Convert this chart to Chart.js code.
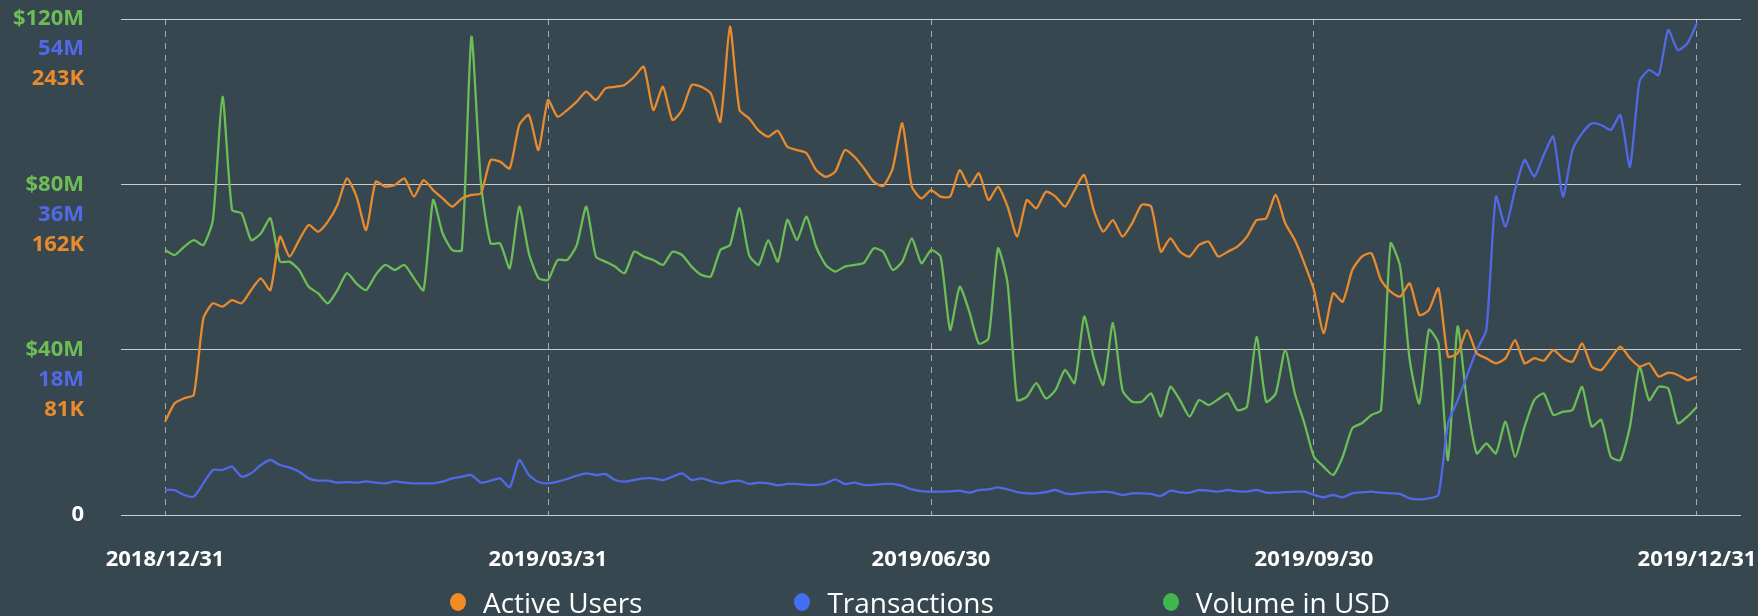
<!DOCTYPE html>
<html>
<head>
<meta charset="utf-8">
<title>Active Users, Transactions and Volume</title>
<script src="https://cdn.jsdelivr.net/npm/chart.js@4.4.1/dist/chart.umd.min.js"></script>
<style>
  html, body { margin: 0; padding: 0; background: #37474f; }
  #wrap { position: relative; width: 1758px; height: 616px; }
  #legend {
    position: absolute; left: 450px; top: 583px; height: 38px;
    display: flex; align-items: center;
    font: 28px 'Open Sans', sans-serif; color: #fff; white-space: nowrap;
  }
  #legend .item { display: flex; align-items: center; }
  #legend .item:nth-child(2) { margin-left: 152px; }
  #legend .item:nth-child(3) { margin-left: 169px; }
  #legend .dot { width: 16px; height: 18px; border-radius: 50%; margin-right: 17px; }
</style>
</head>
<body>
<div id="wrap">
  <canvas id="chart"></canvas>
  <div id="legend"></div>
</div>
<script>
// one sample every ~2.3 days, 40 samples per quarter
const tickPos = [0, 40, 80, 120, 160];
const tickLabels = ['2018/12/31', '2019/03/31', '2019/06/30', '2019/09/30', '2019/12/31'];

// daily active users, thousands
const activeUsersK = [
  45.7, 54.7, 57.2, 58.8, 96.3, 103.7, 102.1, 105.3, 103.7, 110.2,
  115.9, 110.2, 136.4, 126.6, 134.7, 142.1, 138.8, 143.7, 151.9, 164.9,
  156.0, 139.6, 163.3, 160.9, 161.7, 164.9, 156.0, 164.1, 159.2, 155.1,
  151.1, 155.1, 156.8, 157.6, 173.9, 173.1, 169.8, 191.1, 196.0, 178.8,
  203.3, 195.1, 198.4, 202.5, 207.4, 203.3, 209.0, 209.8, 210.7, 214.7,
  219.6, 198.4, 209.8, 193.5, 198.4, 210.7, 209.8, 206.6, 192.7, 239.2,
  198.4, 194.3, 188.3, 185.3, 188.3, 180.4, 178.8, 177.2, 169.0, 165.7,
  168.2, 178.8, 175.5, 169.8, 163.3, 161.2, 169.8, 191.9, 160.9, 155.1,
  159.2, 156.0, 156.0, 169.0, 160.9, 167.4, 154.3, 160.9, 151.1, 136.4,
  154.3, 150.2, 158.4, 156.0, 151.1, 159.2, 166.6, 149.4, 138.8, 144.5,
  136.4, 142.9, 151.9, 151.1, 129.0, 135.5, 129.0, 126.6, 132.3, 133.9,
  126.6, 129.0, 131.5, 136.4, 144.5, 145.3, 156.8, 142.9, 134.7, 123.3,
  110.2, 89.0, 108.6, 104.5, 120.0, 126.6, 128.2, 115.1, 109.4, 107.0,
  113.5, 98.0, 100.4, 111.0, 77.6, 79.2, 90.6, 79.2, 76.8, 74.3,
  76.8, 85.7, 74.3, 76.8, 75.6, 80.8, 76.8, 75.1, 84.1, 72.7,
  71.0, 76.8, 82.5, 76.8, 72.7, 74.3, 67.8, 69.7, 68.6, 66.1,
  67.8
];

// daily transactions, millions
const transactionsM = [
  2.72, 2.72, 2.18, 2.00, 3.45, 4.90, 4.90, 5.26, 4.17, 4.54,
  5.44, 5.99, 5.44, 5.19, 4.72, 3.99, 3.74, 3.74, 3.52, 3.59,
  3.52, 3.67, 3.52, 3.45, 3.67, 3.52, 3.45, 3.45, 3.45, 3.63,
  3.99, 4.17, 4.35, 3.52, 3.74, 3.99, 3.01, 5.99, 4.35, 3.59,
  3.45, 3.63, 3.92, 4.28, 4.54, 4.35, 4.46, 3.81, 3.63, 3.81,
  3.99, 3.99, 3.81, 4.17, 4.54, 3.81, 3.99, 3.70, 3.45, 3.63,
  3.74, 3.38, 3.52, 3.45, 3.23, 3.38, 3.38, 3.27, 3.27, 3.45,
  3.88, 3.38, 3.52, 3.27, 3.27, 3.38, 3.38, 3.16, 2.79, 2.61,
  2.54, 2.54, 2.58, 2.65, 2.43, 2.72, 2.79, 3.01, 2.79, 2.50,
  2.36, 2.36, 2.50, 2.72, 2.36, 2.29, 2.43, 2.47, 2.54, 2.43,
  2.18, 2.36, 2.36, 2.29, 2.07, 2.65, 2.47, 2.43, 2.72, 2.65,
  2.54, 2.72, 2.58, 2.54, 2.72, 2.43, 2.43, 2.50, 2.54, 2.54,
  2.18, 1.92, 2.18, 1.92, 2.36, 2.47, 2.54, 2.43, 2.36, 2.29,
  1.81, 1.71, 1.81, 2.18, 9.98, 12.45, 15.24, 17.96, 20.14, 34.66,
  31.39, 35.38, 38.65, 36.83, 39.19, 41.19, 34.66, 39.74, 41.55, 42.64,
  42.46, 41.92, 43.55, 37.92, 47.18, 48.45, 47.90, 52.80, 50.62, 51.35,
  53.53
];

// daily volume, millions of USD
const volumeUsdM = [
  64.1, 62.9, 64.9, 66.5, 65.3, 71.4, 101.2, 73.8, 73.0, 66.5,
  68.1, 71.8, 61.3, 61.3, 59.3, 55.2, 53.6, 51.2, 54.4, 58.5,
  56.0, 54.4, 58.1, 60.5, 59.3, 60.5, 57.3, 54.4, 76.2, 68.1,
  64.1, 64.1, 115.7, 80.2, 65.7, 65.7, 59.7, 74.6, 63.3, 57.3,
  56.9, 61.7, 61.7, 65.3, 74.6, 62.5, 61.3, 60.1, 58.5, 63.7,
  62.5, 61.7, 60.5, 63.7, 62.9, 60.1, 58.1, 57.7, 64.1, 65.3,
  74.2, 62.9, 60.5, 66.5, 61.3, 71.4, 66.5, 72.2, 64.9, 60.5,
  58.9, 60.1, 60.5, 61.0, 64.5, 63.7, 59.3, 61.3, 66.9, 60.9,
  64.1, 62.5, 44.8, 55.2, 49.2, 41.5, 42.7, 64.5, 56.0, 27.8,
  28.6, 31.9, 28.2, 30.2, 35.1, 31.9, 48.0, 37.9, 31.5, 46.4,
  30.2, 27.4, 27.4, 29.4, 23.8, 31.0, 27.8, 23.8, 27.8, 26.6,
  28.0, 29.4, 25.4, 26.2, 43.1, 27.4, 29.4, 39.9, 29.4, 22.2,
  14.1, 11.7, 9.7, 14.1, 21.0, 22.2, 24.2, 25.4, 65.7, 60.1,
  37.5, 27.0, 44.8, 41.5, 13.3, 45.6, 27.0, 14.9, 17.3, 14.9,
  22.6, 14.1, 21.4, 27.8, 29.4, 24.2, 25.0, 25.4, 31.0, 21.4,
  23.0, 14.1, 13.3, 21.4, 35.9, 27.8, 31.0, 30.6, 22.2, 23.8,
  26.2
];

const samples = activeUsersK.map((v, i) => i);

const orange = '#e98b2d';
const blue = '#5169e6';
const green = '#6dbd57';

Chart.defaults.font.family = "'Open Sans', sans-serif";

// the three value axes share one column on the left: the two stacked
// under the volume labels get no width of their own, then borrow its box
const sharedAxisColumn = {
  id: 'sharedAxisColumn',
  afterLayout(chart) {
    const main = chart.scales.yVol;
    ['yTx', 'yUsers'].forEach(id => {
      const s = chart.scales[id];
      s.left = main.left;
      s.right = main.right;
      s.width = main.width;
    });
  }
};

const chart = new Chart(document.getElementById('chart'), {
  type: 'line',
  data: {
    labels: samples,
    datasets: [{
      label: 'Active Users',
      data: activeUsersK,
      yAxisID: 'yUsers',
      borderColor: orange,
      backgroundColor: '#f28b22'
    }, {
      label: 'Transactions',
      data: transactionsM,
      yAxisID: 'yTx',
      borderColor: blue,
      backgroundColor: '#4370f3'
    }, {
      label: 'Volume in USD',
      data: volumeUsdM,
      yAxisID: 'yVol',
      borderColor: green,
      backgroundColor: '#3fb650'
    }]
  },
  options: {
    responsive: true,
    maintainAspectRatio: false,
    animation: false,
    layout: { padding: { top: 19, right: 17, bottom: 0, left: 0 } },
    elements: {
      point: { radius: 0 },
      line: { borderWidth: 2.3, tension: 0.2 }
    },
    plugins: {
      legend: { display: false },
      tooltip: { enabled: false }
    },
    scales: {
      x: {
        type: 'linear',
        min: -4.6,
        max: 164.6,
        afterBuildTicks: (scale) => { scale.ticks = tickPos.map(v => ({ value: v })); },
        afterFit: (scale) => { scale.height = 101; scale.paddingLeft = 0; scale.paddingRight = 0; },
        grid: { color: 'rgba(255,255,255,0.55)', drawTicks: false },
        border: { display: false, dash: [6, 6] },
        ticks: {
          color: '#fff',
          font: { size: 22, weight: 'bold' },
          padding: 32,
          maxRotation: 0,
          autoSkip: false,
          callback: (v, i) => tickLabels[i]
        }
      },
      yVol: {
        position: 'left',
        weight: 1,
        min: 0,
        max: 120,
        afterFit: (scale) => { scale.width = 121; scale.paddingTop = 0; scale.paddingBottom = 0; },
        grid: { color: 'rgba(255,255,255,0.72)', drawTicks: false },
        border: { display: false },
        ticks: {
          stepSize: 40,
          padding: 37,
          font: { size: 22, weight: 'bold' },
          color: (c) => c.tick && c.tick.value === 0 ? '#fff' : green,
          callback: (v) => v === 0 ? '0' : '$' + v + 'M'
        }
      },
      yTx: {
        position: 'left',
        weight: 0,
        min: 0,
        max: 54,
        afterFit: (scale) => { scale.width = 0; scale.paddingTop = 0; scale.paddingBottom = 0; },
        grid: { display: false, drawTicks: false },
        border: { display: false },
        ticks: {
          stepSize: 18,
          padding: 37,
          labelOffset: 30,
          font: { size: 22, weight: 'bold' },
          color: blue,
          callback: (v) => v === 0 ? '' : v + 'M'
        }
      },
      yUsers: {
        position: 'left',
        weight: 0,
        min: 0,
        max: 243,
        afterFit: (scale) => { scale.width = 0; scale.paddingTop = 0; scale.paddingBottom = 0; },
        grid: { display: false, drawTicks: false },
        border: { display: false },
        ticks: {
          stepSize: 81,
          padding: 37,
          labelOffset: 60,
          font: { size: 22, weight: 'bold' },
          color: orange,
          callback: (v) => v === 0 ? '' : v + 'K'
        }
      }
    }
  },
  plugins: [sharedAxisColumn]
});

// legend below the axis, built from the datasets
const legend = document.getElementById('legend');
chart.data.datasets.forEach(ds => {
  const item = document.createElement('span');
  item.className = 'item';
  const dot = document.createElement('span');
  dot.className = 'dot';
  dot.style.background = ds.backgroundColor;
  item.appendChild(dot);
  item.appendChild(document.createTextNode(ds.label));
  legend.appendChild(item);
});
</script>
</body>
</html>
